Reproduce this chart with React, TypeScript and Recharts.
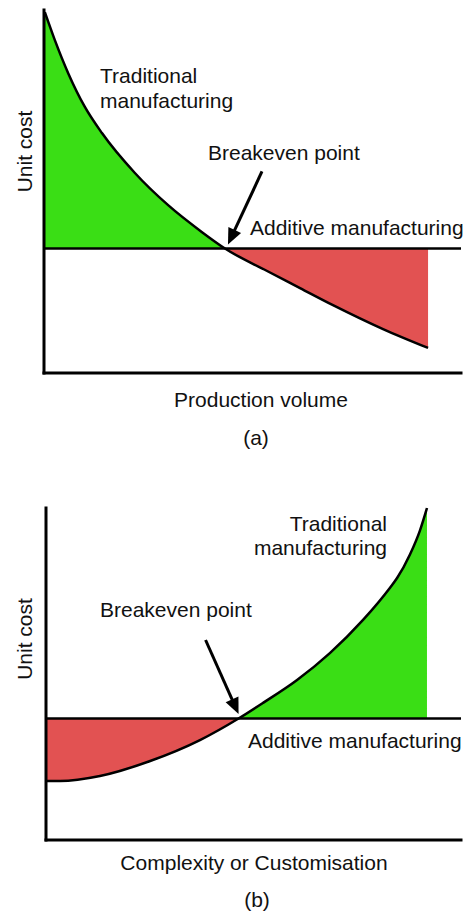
import {
  Area,
  ComposedChart,
  ReferenceDot,
  ReferenceLine,
  XAxis,
  YAxis,
} from "recharts";

const FONT = '"Liberation Sans", Arial, sans-serif';
const GREEN = "#3ade15";
const RED = "#e25252";
const INK = "#111";

// (a) unit cost vs production volume, arbitrary 0-100 units
const volume = [0.2, 2.6, 5.8, 9.8, 13.9, 21.8, 29.7, 37.9, 43.4, 53.5, 61.4, 69.3, 81.3, 92.1];
const tradCostByVolume = [99.4, 91.7, 82.6, 73.3, 66.1, 55.1, 46.3, 38.8, 34.3, 28.1, 23.4, 18.7, 12.1, 6.9];
const additiveCostByVolume = 34.3;
const breakevenVolume = 43.4;

// (b) unit cost vs complexity / customisation
const complexity = [0, 3.4, 13.0, 25.1, 37.1, 46.4, 52.3, 60.5, 68.4, 76.4, 82.9, 84.6, 87.7, 90.1, 91.8];
const tradCostByComplexity = [17.8, 17.8, 19.3, 23.8, 30.1, 36.6, 41.3, 48.2, 56.3, 66.3, 76.0, 78.9, 86.0, 93.2, 100];
const additiveCostByComplexity = 36.6;
const breakevenComplexity = 46.4;

function buildRows(xs: number[], costs: number[]) {
  return xs.map((x, i) => ({ x, cost: costs[i] }));
}

function BreakevenArrow({ cx, cy, tail, tip }: { cx: number; cy: number; tail: number[]; tip: number[] }) {
  const x1 = cx + tail[0];
  const y1 = cy + tail[1];
  const x2 = cx + tip[0];
  const y2 = cy + tip[1];
  const len = Math.hypot(x2 - x1, y2 - y1);
  const ux = (x2 - x1) / len;
  const uy = (y2 - y1) / len;
  const headLen = 16;
  const headHalf = 7;
  const bx = x2 - ux * headLen;
  const by = y2 - uy * headLen;
  return (
    <g>
      <line x1={x1} y1={y1} x2={bx + ux * 3} y2={by + uy * 3} stroke="#000" strokeWidth={3} />
      <polygon
        points={`${x2},${y2} ${bx - uy * headHalf},${by + ux * headHalf} ${bx + uy * headHalf},${by - ux * headHalf}`}
        fill="#000"
      />
    </g>
  );
}

interface PanelProps {
  id: string;
  rows: { x: number; cost: number }[];
  additive: number;
  breakeven: number;
  leftColor: string;
  rightColor: string;
  tail: number[];
  tip: number[];
  height: number;
  margin: { top: number; right: number; bottom: number; left: number };
}

function CostPanel({ id, rows, additive, breakeven, leftColor, rightColor, tail, tip, height, margin }: PanelProps) {
  // the fill changes colour where the two cost lines cross
  const x0 = rows[0].x;
  const xN = rows[rows.length - 1].x;
  const split = (breakeven - x0) / (xN - x0);

  return (
    <ComposedChart width={466} height={height} data={rows} margin={margin}>
      <defs>
        <linearGradient id={id} x1="0" y1="0" x2="1" y2="0">
          <stop offset={0} stopColor={leftColor} />
          <stop offset={split} stopColor={leftColor} />
          <stop offset={split} stopColor={rightColor} />
          <stop offset={1} stopColor={rightColor} />
        </linearGradient>
      </defs>
      <XAxis type="number" dataKey="x" domain={[0, 100]} hide />
      <YAxis type="number" domain={[0, 100]} hide />
      <Area
        dataKey="cost"
        type="monotone"
        baseValue={additive}
        fill={`url(#${id})`}
        fillOpacity={1}
        stroke="#000"
        strokeWidth={2.5}
        dot={false}
        activeDot={false}
        isAnimationActive={false}
      />
      <ReferenceLine y={additive} stroke="#000" strokeWidth={2.5} />
      <ReferenceLine x={0} stroke="#000" strokeWidth={3} strokeLinecap="square" />
      <ReferenceLine y={0} stroke="#000" strokeWidth={3} strokeLinecap="square" />
      <ReferenceDot
        x={breakeven}
        y={additive}
        r={0}
        shape={(p: any) => <BreakevenArrow cx={p.cx} cy={p.cy} tail={tail} tip={tip} />}
      />
    </ComposedChart>
  );
}

export default function App() {
  const rowsA = buildRows(volume, tradCostByVolume);
  const rowsB = buildRows(complexity, tradCostByComplexity);
  const text = { fontFamily: FONT, fontSize: 21, fill: INK };

  return (
    <div style={{ position: "absolute", left: 0, top: 0, width: 466, height: 915, background: "#fff" }}>
      <div style={{ position: "absolute", left: 0, top: 0 }}>
        <CostPanel
          id="fillA"
          rows={rowsA}
          additive={additiveCostByVolume}
          breakeven={breakevenVolume}
          leftColor={GREEN}
          rightColor={RED}
          tail={[37, -77]}
          tip={[3, -4]}
          height={380}
          margin={{ top: 10, right: 5, bottom: 7, left: 44 }}
        />
      </div>
      <div style={{ position: "absolute", left: 0, top: 500 }}>
        <CostPanel
          id="fillB"
          rows={rowsB}
          additive={additiveCostByComplexity}
          breakeven={breakevenComplexity}
          leftColor={RED}
          rightColor={GREEN}
          tail={[-33, -78.5]}
          tip={[0, -4.5]}
          height={345}
          margin={{ top: 8, right: 5, bottom: 5, left: 46 }}
        />
      </div>
      <svg
        width={466}
        height={915}
        style={{ position: "absolute", left: 0, top: 0, pointerEvents: "none" }}
      >
        {/* (a) */}
        <text {...text} x={100} y={83}>Traditional</text>
        <text {...text} x={100} y={108}>manufacturing</text>
        <text {...text} x={208} y={160}>Breakeven point</text>
        <text {...text} x={250} y={235}>Additive manufacturing</text>
        <text {...text} textAnchor="middle" transform="translate(32,151.5) rotate(-90)">Unit cost</text>
        <text {...text} x={261} y={407} textAnchor="middle">Production volume</text>
        <text {...text} x={256} y={445} textAnchor="middle">(a)</text>

        {/* (b) */}
        <text {...text} x={387} y={531} textAnchor="end">Traditional</text>
        <text {...text} x={387} y={555} textAnchor="end">manufacturing</text>
        <text {...text} x={100} y={617}>Breakeven point</text>
        <text {...text} x={248} y={748}>Additive manufacturing</text>
        <text {...text} textAnchor="middle" transform="translate(32,639) rotate(-90)">Unit cost</text>
        <text {...text} x={254} y={870} textAnchor="middle">Complexity or Customisation</text>
        <text {...text} x={257} y={907} textAnchor="middle">(b)</text>
      </svg>
    </div>
  );
}
